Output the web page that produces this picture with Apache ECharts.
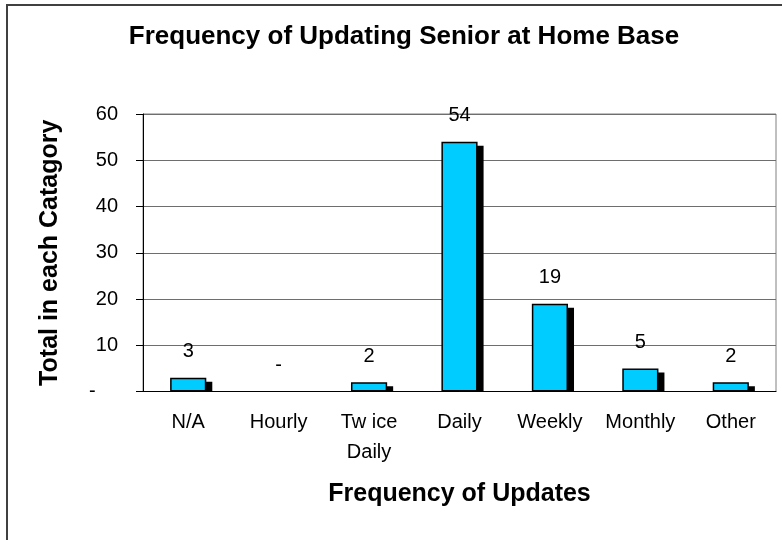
<!DOCTYPE html>
<html>
<head>
<meta charset="utf-8">
<script src="https://cdn.jsdelivr.net/npm/echarts@6/dist/echarts.min.js"></script>
<style>
  html, body { margin: 0; padding: 0; background: #fff; }
  #chart { width: 782px; height: 540px; }
</style>
</head>
<body>
<div id="chart"></div>
<script>
// categories and values
const categories = ['N/A', 'Hourly', 'Tw ice\nDaily', 'Daily', 'Weekly', 'Monthly', 'Other'];
const totals = [3, 0, 2, 54, 19, 5, 2];
const yTicks = [0, 10, 20, 30, 40, 50, 60];

const chart = echarts.init(document.getElementById('chart'));
const font = 'Liberation Sans, Arial, sans-serif';

// zero-value bar draws nothing, only its '-' label
const barData = totals.map(v => v === 0
    ? { value: 0, itemStyle: { borderWidth: 0 } }
    : v);

// black drop shadow: shifted right and down, stops at the axis
function renderShadow(params, api) {
    const top = api.coord([api.value(0), api.value(1)]);
    const base = api.coord([api.value(0), 0]);
    const w = api.size([1, 0])[0] * 0.4;
    const h = base[1] - top[1] - 4;
    if (h <= 0) return null;
    return {
        type: 'rect',
        shape: { x: top[0] - w / 2 + 6, y: top[1] + 4, width: w, height: h },
        style: { fill: '#000' }
    };
}

chart.setOption({
    animation: false,
    textStyle: { fontFamily: font },
    title: {
        text: 'Frequency of Updating Senior at Home Base',
        left: 399,
        textAlign: 'center',
        top: 19,
        textStyle: { fontSize: 26, fontWeight: 'bold', color: '#000', fontFamily: font }
    },
    graphic: [{
        type: 'rect',
        shape: { x: 7, y: 5, width: 800, height: 560 },
        style: { fill: 'none', stroke: '#404040', lineWidth: 2 },
        silent: true
    }],
    grid: {
        left: 143, right: 6, top: 114, bottom: 148.5,
        show: true, borderColor: '#808080', borderWidth: 1
    },
    xAxis: {
        type: 'category',
        data: categories,
        name: 'Frequency of Updates',
        nameLocation: 'middle',
        nameGap: 90,
        nameTextStyle: { fontSize: 25, fontWeight: 'bold', color: '#000', fontFamily: font },
        axisLine: { lineStyle: { color: '#000', width: 1 } },
        axisTick: { length: 7, lineStyle: { color: '#000' } },
        axisLabel: { interval: 0, fontSize: 20, lineHeight: 30, margin: 16, color: '#000', fontFamily: font }
    },
    yAxis: {
        type: 'value',
        min: yTicks[0],
        max: yTicks[yTicks.length - 1],
        interval: 10,
        name: 'Total in each Catagory',
        nameLocation: 'middle',
        nameGap: 80,
        nameTextStyle: { fontSize: 25, fontWeight: 'bold', color: '#000', fontFamily: font },
        axisLine: { show: true, lineStyle: { color: '#000', width: 1 } },
        axisTick: { show: true, length: 7, lineStyle: { color: '#000' } },
        splitLine: { lineStyle: { color: '#6e6e6e', width: 1 } },
        axisLabel: {
            fontSize: 20, margin: 25, color: '#000', fontFamily: font,
            formatter: v => v === 0 ? '{d|-}' : String(v),
            rich: { d: { width: 29, align: 'left', fontSize: 20, color: '#000' } }
        }
    },
    series: [{
        type: 'custom',
        renderItem: renderShadow,
        data: totals.map((v, i) => [i, v]),
        z: 1,
        silent: true
    }, {
        type: 'bar',
        data: barData,
        barWidth: '40%',
        z: 2,
        itemStyle: {
            color: '#00CCFF',
            borderColor: '#000',
            borderWidth: 1.5
        },
        label: {
            show: true,
            position: 'top',
            distance: 16,
            fontSize: 20,
            color: '#000',
            fontFamily: font,
            formatter: p => p.value === 0 ? '-' : String(p.value)
        }
    }]
});
</script>
</body>
</html>
